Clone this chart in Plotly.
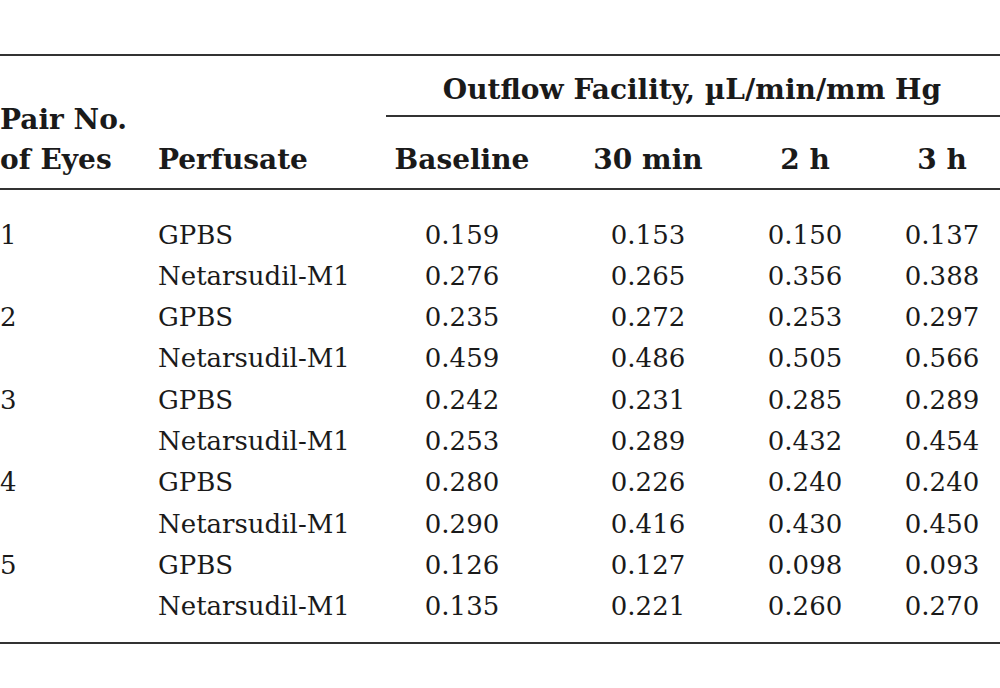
import plotly.graph_objects as go

pairs = ["1", "", "2", "", "3", "", "4", "", "5", ""]
perfusates = ["GPBS", "Netarsudil-M1"] * 5
baseline = ["0.159", "0.276", "0.235", "0.459", "0.242", "0.253", "0.280", "0.290", "0.126", "0.135"]
min30 = ["0.153", "0.265", "0.272", "0.486", "0.231", "0.289", "0.226", "0.416", "0.127", "0.221"]
h2 = ["0.150", "0.356", "0.253", "0.505", "0.285", "0.432", "0.240", "0.430", "0.098", "0.260"]
h3 = ["0.137", "0.388", "0.297", "0.566", "0.289", "0.454", "0.240", "0.450", "0.093", "0.270"]
time_headers = ["Baseline", "30 min", "2 h", "3 h"]
group_header = "Outflow Facility, µL/min/mm Hg"

FONT = "DejaVu Serif"
FS = 26
FS_B = 28
COLOR = "#1a1a1a"

row0, row_h = 237, 41.3
rows_y = [row0 + i * row_h for i in range(len(perfusates))]
col_x = [462, 648, 805, 942]
x_pair, x_perf = 0, 158

fig = go.Figure()

def text_trace(xs, ys, texts, pos, bold=False):
    fig.add_trace(go.Scatter(
        x=xs, y=ys, text=[f"<b>{t}</b>" if bold and t else t for t in texts],
        mode="text", textposition=pos,
        textfont=dict(family=FONT, size=FS_B if bold else FS, color=COLOR),
        hoverinfo="skip", showlegend=False))

# body
text_trace([x_pair] * len(pairs), rows_y, pairs, "middle right")
text_trace([x_perf] * len(perfusates), rows_y, perfusates, "middle right")
for cx, vals in zip(col_x, [baseline, min30, h2, h3]):
    text_trace([cx] * len(vals), rows_y, vals, "middle center")

# headers
hdr_y = 162
text_trace([x_pair, x_pair], [122, hdr_y], ["Pair No.", "of Eyes"], "middle right", bold=True)
text_trace([x_perf], [hdr_y], ["Perfusate"], "middle right", bold=True)
text_trace(col_x, [hdr_y] * 4, time_headers, "middle center", bold=True)
text_trace([692], [92], [group_header], "middle center", bold=True)

line = dict(color="#333333", width=2)
for y0, xa, xb in [(55, 0, 1000), (116, 386, 1000), (189, 0, 1000), (643, 0, 1000)]:
    fig.add_shape(type="line", xref="x", yref="y", x0=xa, x1=xb, y0=y0, y1=y0, line=line)

fig.update_layout(
    width=1000, height=688, margin=dict(l=0, r=0, t=0, b=0),
    paper_bgcolor="white", plot_bgcolor="white",
    xaxis=dict(range=[0, 1000], visible=False, fixedrange=True),
    yaxis=dict(range=[688, 0], visible=False, fixedrange=True),
)
fig.write_html(
    "out.html",
    config={"displayModeBar": False},
    post_script="document.body.style.margin='0';document.body.style.overflow='hidden';",
)
